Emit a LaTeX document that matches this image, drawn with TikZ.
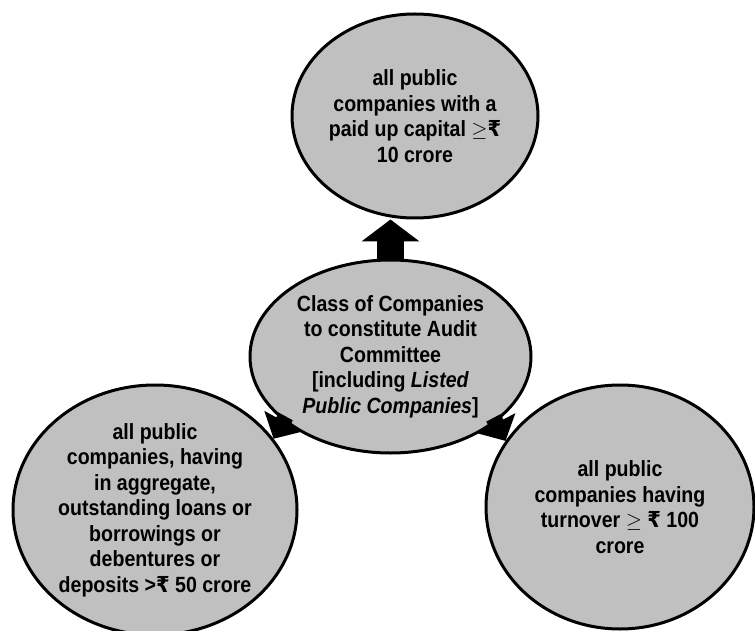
\documentclass[tikz,border=0pt]{standalone}
\usepackage{fontspec}
\setmainfont{Liberation Sans}[FakeStretch = 0.89]
\newfontfamily\rupeefont{DejaVu Sans}[FakeStretch = 0.89]
\newcommand{\rupee}{{\rupeefont\bfseries ₹}}
\usetikzlibrary{shapes.geometric, arrows.meta}
\definecolor{ovalgray}{RGB}{192,192,192}

\begin{document}
\begin{tikzpicture}[x = 1pt, y = -1pt,
    oval/.style = {ellipse, draw = black, line width = 3pt, fill = ovalgray, inner sep = 0pt,
                   align = center, font = \fontsize{22}{25.5}\selectfont\bfseries},
    bigarrow/.style = {line width = 27pt, -{Triangle[width = 57pt, length = 22pt]}},
    smallarrow/.style = {line width = 16pt, shorten <= -5pt, -{Triangle[width = 42pt, length = 20pt]}}]

    \useasboundingbox (0, 0) rectangle (755, 631);

    \node [oval, minimum width = 246pt, minimum height = 204pt] (capital) at (415, 116)
        {all public\\companies with a\\paid up capital $\geq$\rupee\\10 crore};

    \node [oval, minimum width = 281pt, minimum height = 193pt] (class) at (390.5, 356.5)
        {Class of Companies\\to constitute Audit\\Committee\\{[}including \textit{Listed}\\\textit{Public Companies}]};

    \node [oval, minimum width = 284pt, minimum height = 250pt] (loans) at (155, 510)
        {all public\\companies, having\\in aggregate,\\outstanding loans or\\borrowings or\\debentures or\\deposits >\rupee{} 50 crore};

    \node [oval, minimum width = 268pt, minimum height = 244pt] (turnover) at (620, 507)
        {all public\\companies having\\turnover $\geq$ \rupee{} 100\\crore};

    \draw [bigarrow] (class.north) -- (class.north |- capital.south);
    \draw [smallarrow] (class.211) -- (loans.31);
    \draw [smallarrow] (class.-32) -- (turnover.150);

\end{tikzpicture}
\end{document}
